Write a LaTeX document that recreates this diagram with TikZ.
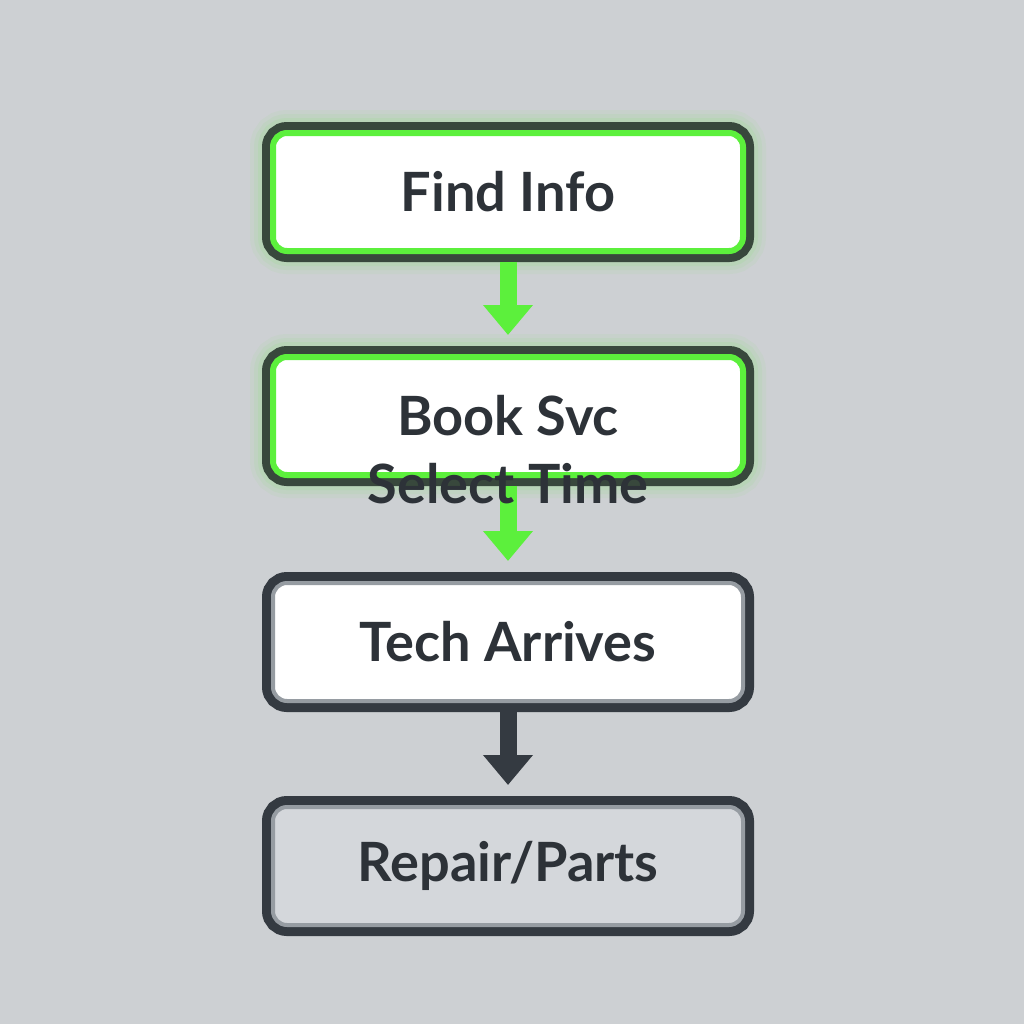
\documentclass[tikz,border=0pt]{standalone}
\usepackage{fontspec}
\setmainfont{Lato}
\usepackage{tikz}
\usetikzlibrary{positioning}
\usetikzlibrary{arrows.meta}

\definecolor{bgray}{RGB}{205,208,211}
\definecolor{glowgreen}{RGB}{92,240,60}
\definecolor{edgegreen}{RGB}{56,72,60}
\definecolor{edgedark}{RGB}{52,58,65}
\definecolor{bevel}{RGB}{150,156,162}
\definecolor{txt}{RGB}{45,50,56}
\definecolor{pale}{RGB}{212,215,219}

\tikzset{
  box/.style={rectangle, rounded corners=0.14cm, minimum width=4.70cm, minimum height=1.18cm,
    inner sep=0pt, outer sep=0pt, text=txt, font=\fontsize{15.4}{19.3}\selectfont\bfseries},
  greenbox/.style={box, fill=white, draw=glowgreen, line width=0.06cm,
    preaction={draw=glowgreen, line width=0.46cm, opacity=0.05},
    preaction={draw=glowgreen, line width=0.38cm, opacity=0.06},
    preaction={draw=glowgreen, line width=0.30cm, opacity=0.08},
    preaction={draw=edgegreen, line width=0.22cm}},
  darkbox/.style={box, draw=bevel, line width=0.04cm,
    preaction={draw=edgedark, line width=0.22cm}},
  flow/.style={line width=0.17cm, -{Triangle[width=0.48cm,length=0.3cm]},
    shorten <=0.11cm, shorten >=0.22cm},
  lbl/.style={align=center, inner sep=0pt, text=txt, font=\fontsize{15.4}{19.3}\selectfont\bfseries}
}

\begin{document}
\begin{tikzpicture}
		\fill[bgray] (0,0) rectangle (10.24,-10.24);
		\useasboundingbox (0,0) rectangle (10.24,-10.24);
		
		\node[greenbox] (find) at (5.08,-1.92) {Find Info};
		\node[greenbox, below=1.06cm of find] (book) {};
		\node[darkbox, fill=white, below=1.08cm of book] (tech) {Tech Arrives};
		\node[darkbox, fill=pale, below=1.06cm of tech] (repair) {Repair/Parts};
		
		\draw[flow, glowgreen] (find) -- (book);
		\draw[flow, glowgreen] (book) -- (tech);
		\draw[flow, edgedark] (tech) -- (repair);
		
		\node[lbl] (booktext) at ([yshift=-0.34cm]book.center) {Book Svc\\Select Time};
	\end{tikzpicture}
\end{document}
